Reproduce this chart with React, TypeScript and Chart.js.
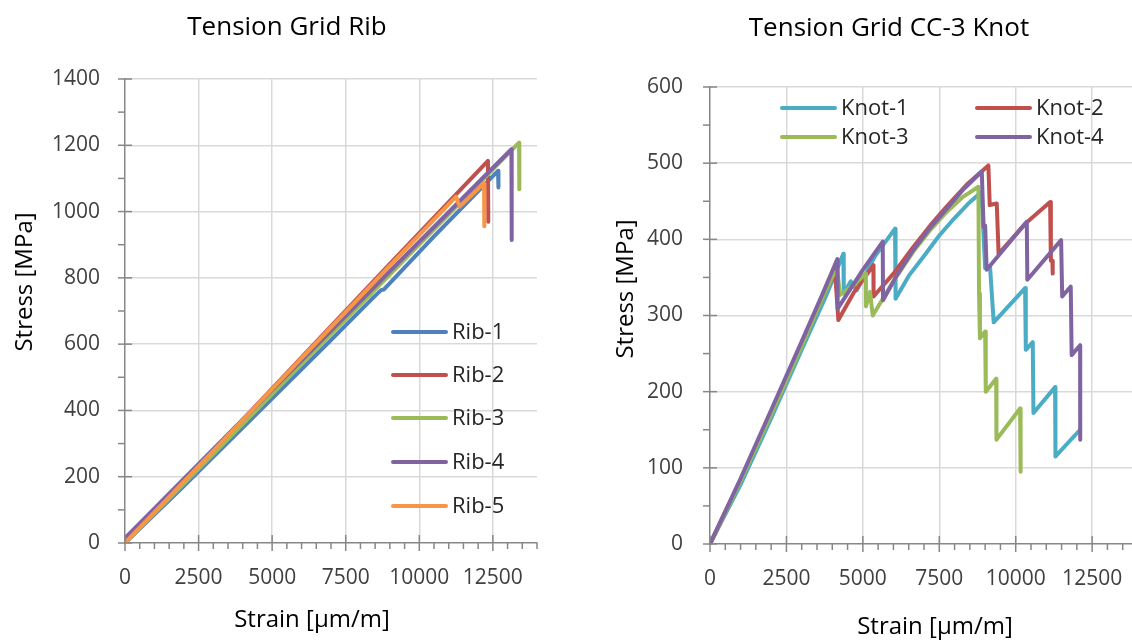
import React, { useEffect, useRef } from 'react';
import { Chart, registerables } from 'chart.js';

Chart.register(...registerables);

const FONT = "'Open Sans', 'Noto Sans', sans-serif";

// ---------- Left chart: Tension Grid Rib ----------
const ribLabels = ['Rib-1', 'Rib-2', 'Rib-3', 'Rib-4', 'Rib-5'];
const ribColors = ['#4F81BD', '#C0504D', '#9BBB59', '#8064A2', '#F79646'];

const rib1Strain = [0, 2000, 4500, 7000, 8350, 8700, 8800, 10500, 12675, 12690];
const rib1Stress = [0, 172, 392, 612, 733, 763, 765, 925, 1123, 1073];
const rib2Strain = [0, 3000, 6000, 9000, 12333, 12345];
const rib2Stress = [0, 278, 560, 842, 1153, 969];
const rib3Strain = [0, 3000, 6000, 9000, 13390, 13400];
const rib3Stress = [0, 268, 540, 810, 1208, 1067];
const rib4Strain = [0, 3000, 6000, 9000, 13130, 13140];
const rib4Stress = [15, 283, 551, 820, 1188, 914];
const rib5Strain = [0, 3000, 6000, 9000, 11250, 11370, 12200, 12210];
const rib5Stress = [0, 278, 558, 837, 1045, 1015, 1085, 956];

// ---------- Right chart: Tension Grid CC-3 Knot ----------
const knotLabels = ['Knot-1', 'Knot-2', 'Knot-3', 'Knot-4'];
const knotColors = ['#4BACC6', '#C0504D', '#9BBB59', '#8064A2'];

const knot1Strain = [0, 1000, 2000, 3000, 3800, 4363, 4375, 4604, 4800, 5400, 6053, 6070, 6500, 7000, 7500, 8000, 8450, 8880, 9000, 9160, 9280, 10307, 10330, 10558, 10580, 11288, 11300, 12106];
const knot1Stress = [0, 78, 165, 255, 326, 381, 329, 345, 333, 378, 414, 322, 352, 378, 405, 428, 447, 462, 362, 364, 291, 336, 255, 265, 172, 206, 115, 150];
const knot2Strain = [0, 1000, 2000, 3000, 3700, 4090, 4199, 4700, 5345, 5350, 6000, 6650, 7200, 7740, 8400, 9106, 9150, 9380, 9440, 10300, 11125, 11150, 11200, 11210];
const knot2Stress = [0, 84, 172, 262, 325, 357, 294, 330, 366, 325, 355, 390, 418, 443, 472, 497, 445, 447, 381, 420, 449, 372, 372, 355];
const knot3Strain = [0, 1000, 2000, 3000, 3700, 4150, 4254, 4700, 5094, 5100, 5235, 5323, 6000, 6650, 7200, 7740, 8250, 8780, 8800, 8830, 9000, 9020, 9360, 9370, 10143, 10160];
const knot3Stress = [0, 83, 170, 260, 325, 363, 327, 340, 355, 312, 331, 300, 345, 384, 412, 436, 455, 469, 329, 270, 279, 200, 217, 137, 178, 95];
const knot4Strain = [0, 1000, 2000, 3000, 3700, 4166, 4175, 5000, 5650, 5660, 6100, 6650, 7200, 7740, 8300, 8890, 8950, 9000, 9050, 10362, 10380, 11485, 11520, 11800, 11830, 12106, 12110];
const knot4Stress = [0, 86, 176, 266, 330, 374, 309, 360, 397, 320, 352, 386, 415, 440, 466, 489, 416, 418, 360, 423, 347, 399, 325, 338, 248, 261, 137];

const pts = (xs: number[], ys: number[]) => xs.map((x, i) => ({ x, y: ys[i] }));

const ribSeries = [
  pts(rib1Strain, rib1Stress),
  pts(rib2Strain, rib2Stress),
  pts(rib3Strain, rib3Stress),
  pts(rib4Strain, rib4Stress),
  pts(rib5Strain, rib5Stress),
];
const knotSeries = [
  pts(knot1Strain, knot1Stress),
  pts(knot2Strain, knot2Stress),
  pts(knot3Strain, knot3Stress),
  pts(knot4Strain, knot4Stress),
];

type Pos = { x: number; y: number };
type Texts = { title: string; titlePos: Pos; xTitle: string; xTitlePos: Pos; yTitle: string; yTitlePos: Pos };

function decoPlugin(xMajor: number, yMajor: number, legendPos: Pos[], texts: Texts) {
  return {
    id: 'excelDeco',
    afterDraw(chart: any) {
      const ctx = chart.ctx;
      const area = chart.chartArea;
      const xs = chart.scales.x;
      const ys = chart.scales.y;
      ctx.save();
      ctx.strokeStyle = '#878787';
      ctx.lineWidth = 1.5;
      xs.ticks.forEach((t: any) => {
        const px = xs.getPixelForValue(t.value);
        const major = t.value % xMajor === 0;
        ctx.beginPath();
        ctx.moveTo(px, area.bottom + (major ? -8 : 0));
        ctx.lineTo(px, area.bottom + (major ? 8 : 6));
        ctx.stroke();
      });
      ys.ticks.forEach((t: any) => {
        const py = ys.getPixelForValue(t.value);
        const major = t.value % yMajor === 0;
        ctx.beginPath();
        ctx.moveTo(area.left - 7, py);
        ctx.lineTo(area.left + (major ? 7 : 0), py);
        ctx.stroke();
      });
      // legend
      ctx.font = `22px ${FONT}`;
      ctx.textBaseline = 'middle';
      ctx.textAlign = 'left';
      chart.data.datasets.forEach((ds: any, i: number) => {
        const p = legendPos[i];
        if (!p) return;
        ctx.strokeStyle = ds.borderColor;
        ctx.lineWidth = 4;
        ctx.lineCap = 'round';
        ctx.beginPath();
        ctx.moveTo(p.x, p.y);
        ctx.lineTo(p.x + 53, p.y);
        ctx.stroke();
        ctx.fillStyle = '#262626';
        ctx.fillText(ds.label, p.x + 59, p.y + 1);
      });
      // titles
      ctx.fillStyle = '#000';
      ctx.textAlign = 'center';
      ctx.textBaseline = 'middle';
      ctx.font = `26px ${FONT}`;
      ctx.fillText(texts.title, texts.titlePos.x, texts.titlePos.y);
      ctx.font = `24px ${FONT}`;
      ctx.fillText(texts.xTitle, texts.xTitlePos.x, texts.xTitlePos.y);
      ctx.translate(texts.yTitlePos.x, texts.yTitlePos.y);
      ctx.rotate(-Math.PI / 2);
      ctx.fillText(texts.yTitle, 0, 0);
      ctx.restore();
    },
  };
}

type Cfg = {
  texts: Texts;
  labels: string[];
  colors: string[];
  series: { x: number; y: number }[][];
  xMax: number;
  xStep: number;
  xMajor: number;
  yMax: number;
  yStep: number;
  yMajor: number;
  yAxisWidth: number;
  xAxisHeight: number;
  topPad: number;
  rightPad: number;
  yTickPad: number;
  legend: Pos[];
};

function makeChart(canvas: HTMLCanvasElement, c: Cfg) {
  const n = c.series.length;
  const tickFont = { family: FONT, size: 21 };
  return new Chart(canvas, {
    type: 'scatter',
    data: {
      datasets: c.series.map((d, i) => ({
        label: c.labels[i],
        data: d,
        showLine: true,
        borderColor: c.colors[i],
        backgroundColor: c.colors[i],
        borderWidth: 4,
        borderCapStyle: 'round',
        borderJoinStyle: 'round',
        pointRadius: 0,
        tension: 0,
        order: n - i,
      })),
    },
    options: {
      animation: false,
      responsive: false,
      devicePixelRatio: 1,
      layout: { padding: { left: 0, right: c.rightPad, top: c.topPad, bottom: 0 } },
      plugins: {
        legend: { display: false },
        tooltip: { enabled: false },
        title: { display: false },
      },
      scales: {
        x: {
          type: 'linear',
          min: 0,
          max: c.xMax,
          afterFit: (s: any) => {
            s.height = c.xAxisHeight;
          },
          ticks: {
            stepSize: c.xStep,
            autoSkip: false,
            maxRotation: 0,
            minRotation: 0,
            padding: 22,
            color: '#404040',
            font: tickFont,
            callback: (v: any) => (Number(v) % c.xMajor === 0 ? String(v) : ''),
          },
          grid: {
            drawTicks: false,
            lineWidth: 1.5,
            color: (ctx: any) =>
              ctx.tick && ctx.tick.value % c.xMajor === 0 && ctx.tick.value !== 0 ? '#d9d9d9' : 'rgba(0,0,0,0)',
          },
          border: { color: '#878787', width: 1.5 },
        },
        y: {
          type: 'linear',
          min: 0,
          max: c.yMax,
          afterFit: (s: any) => {
            s.width = c.yAxisWidth;
          },
          ticks: {
            stepSize: c.yStep,
            autoSkip: false,
            padding: c.yTickPad,
            color: '#404040',
            font: tickFont,
            callback: (v: any) => (Number(v) % c.yMajor === 0 ? String(v) : ''),
          },
          grid: {
            drawTicks: false,
            lineWidth: 1.5,
            color: (ctx: any) =>
              ctx.tick && ctx.tick.value % c.yMajor === 0 && ctx.tick.value !== 0 ? '#d9d9d9' : 'rgba(0,0,0,0)',
          },
          border: { color: '#878787', width: 1.5 },
        },
      },
    },
    plugins: [decoPlugin(c.xMajor, c.yMajor, c.legend, c.texts)],
  } as any);
}

export default function App() {
  const leftRef = useRef<HTMLCanvasElement>(null);
  const rightRef = useRef<HTMLCanvasElement>(null);

  useEffect(() => {
    const left = makeChart(leftRef.current!, {
      texts: {
        title: 'Tension Grid Rib',
        titlePos: { x: 287, y: 28 },
        xTitle: 'Strain [µm/m]',
        xTitlePos: { x: 312, y: 620 },
        yTitle: 'Stress [MPa]',
        yTitlePos: { x: 25, y: 282 },
      },
      labels: ribLabels,
      colors: ribColors,
      series: ribSeries,
      xMax: 14000,
      xStep: 500,
      xMajor: 2500,
      yMax: 1400,
      yStep: 100,
      yMajor: 200,
      yAxisWidth: 125,
      xAxisHeight: 98,
      topPad: 79,
      rightPad: 29,
      yTickPad: 25,
      legend: [
        { x: 393, y: 332 },
        { x: 393, y: 375 },
        { x: 393, y: 418 },
        { x: 393, y: 462 },
        { x: 393, y: 506 },
      ],
    });
    const right = makeChart(rightRef.current!, {
      texts: {
        title: 'Tension Grid CC-3 Knot',
        titlePos: { x: 323, y: 29 },
        xTitle: 'Strain [µm/m]',
        xTitlePos: { x: 369, y: 627 },
        yTitle: 'Stress [MPa]',
        yTitlePos: { x: 60, y: 289 },
      },
      labels: knotLabels,
      colors: knotColors,
      series: knotSeries,
      xMax: 14000,
      xStep: 500,
      xMajor: 2500,
      yMax: 600,
      yStep: 50,
      yMajor: 100,
      yAxisWidth: 144,
      xAxisHeight: 97,
      topPad: 87,
      rightPad: 74,
      yTickPad: 27,
      legend: [
        { x: 216, y: 108 },
        { x: 411, y: 108 },
        { x: 216, y: 137 },
        { x: 411, y: 137 },
      ],
    });
    return () => {
      left.destroy();
      right.destroy();
    };
  }, []);

  return (
    <div
      style={{
        position: 'fixed',
        left: 0,
        top: 0,
        width: 1132,
        height: 641,
        overflow: 'hidden',
        background: '#fff',
      }}
    >
      <canvas ref={leftRef} width={566} height={641} style={{ position: 'absolute', left: 0, top: 0 }} />
      <canvas ref={rightRef} width={646} height={641} style={{ position: 'absolute', left: 566, top: 0 }} />
    </div>
  );
}
